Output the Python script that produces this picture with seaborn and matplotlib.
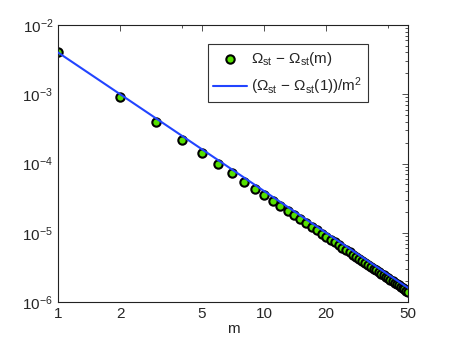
import numpy as np
import pandas as pd
import matplotlib
matplotlib.use('Agg')
import matplotlib.pyplot as plt
import seaborn as sns
from matplotlib.ticker import FixedLocator, NullFormatter, LogLocator

# data
m_vals = list(range(1, 51))
omega_diff = [4.0e-3, 9.0e-4, 3.93e-4, 2.19e-4, 1.40e-4, 9.7e-5, 7.2e-5, 5.5e-5, 4.35e-5, 3.52e-5,
              2.91e-5, 2.44e-5, 2.08e-5, 1.80e-5, 1.56e-5, 1.375e-5, 1.22e-5, 1.09e-5, 9.75e-6, 8.8e-6,
              7.98e-6, 7.27e-6, 6.65e-6, 6.11e-6, 5.63e-6, 5.21e-6, 4.83e-6, 4.49e-6, 4.19e-6, 3.91e-6,
              3.66e-6, 3.44e-6, 3.23e-6, 3.04e-6, 2.87e-6, 2.72e-6, 2.57e-6, 2.44e-6, 2.31e-6, 2.20e-6,
              2.09e-6, 2.00e-6, 1.90e-6, 1.82e-6, 1.74e-6, 1.66e-6, 1.59e-6, 1.53e-6, 1.47e-6, 1.41e-6]
line_m = [1, 50]
line_vals = [4.0e-3, 1.6e-6]

x_ticks = [1, 2, 5, 10, 20, 50]
x_minor = [4, 40]

sns.set_style('white')
plt.rcParams['font.family'] = ['Liberation Sans', 'DejaVu Sans']
plt.rcParams['mathtext.fontset'] = 'custom'
plt.rcParams['mathtext.rm'] = 'Liberation Sans'
plt.rcParams['mathtext.it'] = 'Liberation Sans:italic'

pts = pd.DataFrame({'m': m_vals, 'val': omega_diff})
ln = pd.DataFrame({'m': line_m, 'val': line_vals})

fig = plt.figure(figsize=(4.5, 3.41), dpi=100)
ax = fig.add_axes([0.129, 0.114, 0.778, 0.813])

sns.scatterplot(data=pts, x='m', y='val', ax=ax, s=36, color='#55e000',
                edgecolor='black', linewidth=1.5, zorder=2,
                label=r'$\Omega_{\mathrm{st}}$ $-$ $\Omega_{\mathrm{st}}$(m)')
sns.lineplot(data=ln, x='m', y='val', ax=ax, color='#2244ff', linewidth=1.5, zorder=3,
             label=r'($\Omega_{\mathrm{st}}$ $-$ $\Omega_{\mathrm{st}}$(1))/m$^2$')

ax.set_xscale('log')
ax.set_yscale('log')
ax.set_xlim(1, 50)
ax.set_ylim(1e-6, 1e-2)
ax.xaxis.set_major_locator(FixedLocator(x_ticks))
ax.xaxis.set_minor_locator(FixedLocator(x_minor))
ax.xaxis.set_minor_formatter(NullFormatter())
ax.set_xticklabels([str(t) for t in x_ticks])
ax.yaxis.set_major_locator(LogLocator(base=10, numticks=10))
ax.yaxis.set_minor_locator(LogLocator(base=10, subs=np.arange(2, 10), numticks=20))
ax.yaxis.set_minor_formatter(NullFormatter())
ax.tick_params(which='both', direction='in', top=True, right=True, labelsize=11,
               color='#333333', width=0.6)
ax.tick_params(which='major', length=4)
ax.tick_params(which='minor', length=2)
ax.set_xlabel('m', fontsize=11, labelpad=1)
ax.set_ylabel('')
for sp in ax.spines.values():
    sp.set_color('#222222')
    sp.set_linewidth(0.8)

leg = ax.legend(loc='upper right', bbox_to_anchor=(0.906, 0.957), fontsize=11,
                frameon=True, fancybox=False, edgecolor='#333333', framealpha=1,
                handlelength=2.2, handletextpad=0.3, borderpad=0.35, labelspacing=0.5)
leg.get_frame().set_linewidth(0.8)

fig.savefig('out.png', dpi=100)
